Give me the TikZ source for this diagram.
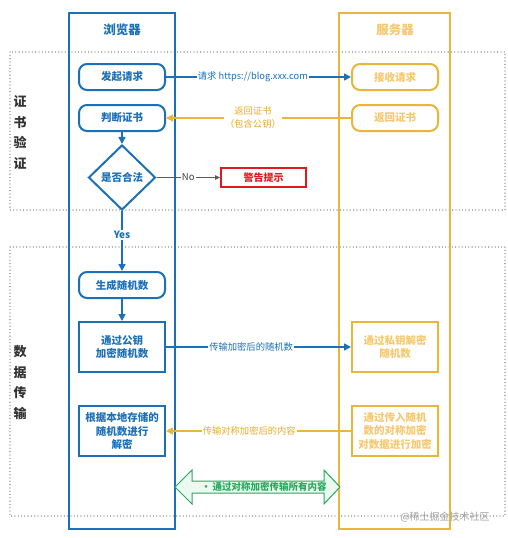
\documentclass[tikz,border=0pt]{standalone}
\usepackage{fontspec}
\setmainfont{Noto Sans CJK SC}
\usetikzlibrary{shapes.geometric,arrows.meta}
\definecolor{bblue}{RGB}{28,112,184}
\definecolor{oborder}{RGB}{234,182,58}
\definecolor{otext}{RGB}{246,200,112}
\definecolor{olabel}{RGB}{232,172,40}
\definecolor{rred}{RGB}{226,24,32}
\definecolor{ggreen}{RGB}{40,168,92}
\definecolor{gfill}{RGB}{236,249,241}
\definecolor{dotc}{RGB}{110,110,110}
\definecolor{noline}{RGB}{90,90,90}
\begin{document}
\begin{tikzpicture}[x=1pt,y=-1pt,
  lane/.style={draw, line width=2.5pt, inner sep=0pt, minimum height=516pt},
  grp/.style={draw=dotc, line width=1.3pt, dash pattern=on 0pt off 3.3pt, line cap=round},
  rbox/.style={draw=bblue, line width=2pt, rounded corners=8pt, minimum width=86pt, minimum height=26pt,
    fill=white, text=bblue, align=center, inner sep=1pt, font=\fontsize{10.5}{13.5}\selectfont\bfseries},
  sqbox/.style={rbox, rounded corners=0pt, minimum height=50pt},
  srv/.style={draw=oborder, text=otext},
  dia/.style={diamond, draw=bblue, line width=2pt, minimum width=67pt, minimum height=65pt, inner sep=0pt,
    fill=white, text=bblue, font=\fontsize{10.5}{13}\selectfont\bfseries},
  warnbox/.style={draw=rred, line width=2pt, minimum width=85pt, minimum height=19pt, inner sep=0pt,
    text=rred, font=\fontsize{10}{12}\selectfont\bfseries},
  elabel/.style={fill=white, inner sep=1pt, align=center, font=\fontsize{9.3}{13}\selectfont},
  barrow/.style={draw=bblue, line width=1.6pt, -{Triangle[length=7pt,width=7pt]}},
  oarrow/.style={draw=oborder, line width=1.6pt, -{Triangle[length=7pt,width=7pt]}},
  narrow/.style={draw=noline, line width=0.8pt, -{Triangle[length=5pt,width=4.5pt]}},
  gtitle/.style={align=center, text=black!80, font=\fontsize{13}{20.5}\selectfont\bfseries}
]
\useasboundingbox (0,0) rectangle (508,538);
\fill[white] (0,0) rectangle (508,538);

% dotted groups
\draw[grp] (10,52) rectangle (505,210);
\draw[grp] (10,247) rectangle (505,516);
\node[gtitle] (g1) at (20,132.5) {证\\书\\验\\证};
\node[gtitle] (g2) at (20,382.5) {数\\据\\传\\输};

% lanes
\node[lane, draw=bblue, minimum width=106pt] (browser) at (122,271) {};
\node[lane, draw=oborder, minimum width=111pt] (server) at (394.5,271) {};
\node[text=bblue, font=\fontsize{12.5}{15}\selectfont\bfseries] (btitle) at (122,30) {浏览器};
\node[text=otext, font=\fontsize{12.5}{15}\selectfont\bfseries] (stitle) at (395,30) {服务器};

% browser nodes
\node[rbox] (req) at (122,77) {发起请求};
\node[rbox] (judge) at (122,118) {判断证书};
\node[dia] (legal) at (122,177.5) {是否合法};
\node[rbox] (gen) at (122,285) {生成随机数};
\node[sqbox] (enc) at (122,347) {通过公钥\\加密随机数};
\node[sqbox] (dec) at (122,431) {根据本地存储的\\随机数进行\\解密};

% server nodes
\node[rbox, srv] (recv) at (395,77) {接收请求};
\node[rbox, srv] (ret) at (395,118) {返回证书};
\node[sqbox, srv] (sdec) at (395,347) {通过私钥解密\\随机数};
\node[sqbox, srv] (senc) at (395,431) {通过传入随机\\数的对称加密\\对数据进行加密};

\node[warnbox] (warn) at (263.5,177.5) {警告提示};

% connectors
\draw[barrow] (req) -- node[elabel, text=bblue, pos=0.47] {请求 https://blog.xxx.com} (recv);
\draw[oarrow] (ret) -- node[elabel, text=olabel, pos=0.53] {返回证书\\（包含公钥）} (judge);
\draw[barrow] (judge) -- (legal);
\draw[narrow] (legal) -- node[elabel, text=black!75, font=\fontsize{9.5}{12}\selectfont] {No} (warn);
\draw[barrow] (legal) -- node[elabel, text=bblue, pos=0.4, font=\fontsize{10}{12}\selectfont\bfseries] {Yes} (gen);
\draw[barrow] (gen) -- (enc);
\draw[barrow] (enc) -- node[elabel, text=bblue, pos=0.46] {传输加密后的随机数} (sdec);
\draw[oarrow] (senc) -- node[elabel, text=olabel, pos=0.55] {传输对称加密后的内容} (dec);

% green double arrow
\draw[draw=ggreen, fill=gfill, line width=1pt, line join=miter]
  (175,487) -- (192,470) -- (192,481) -- (324,481) -- (324,470) -- (340,487)
  -- (324,504) -- (324,493) -- (192,493) -- (192,504) -- cycle;
\node[text=ggreen, inner sep=0pt, font=\fontsize{9.5}{12}\selectfont\bfseries] (allc) at (264,487) {•\,通过对称加密传输所有内容};

% watermark
\node[text=black!45, opacity=0.8, inner sep=0pt, font=\fontsize{10}{12}\selectfont] (wm) at (445,517) {@稀土掘金技术社区};
\end{tikzpicture}
\end{document}
